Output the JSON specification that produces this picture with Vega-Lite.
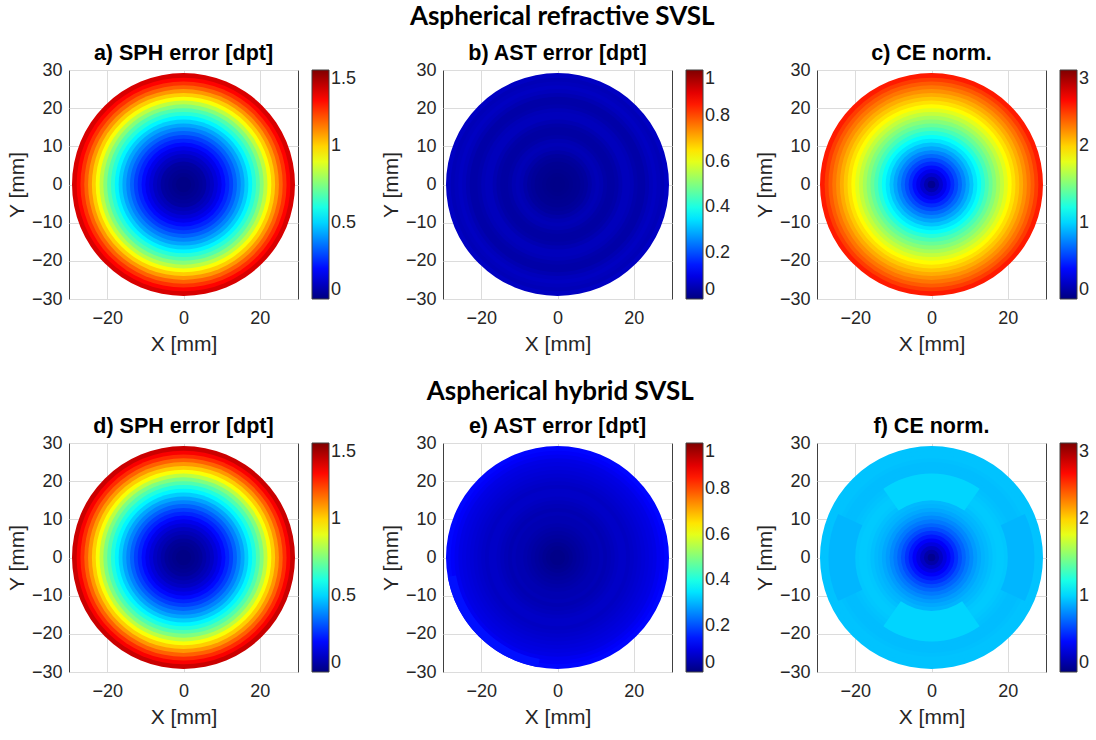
{
  "$schema": "https://vega.github.io/schema/vega-lite/v6.json",
  "padding": {"left": 5, "top": 4, "right": 0, "bottom": 0},
  "background": "white",
  "config": {
    "font": "Liberation Sans",
    "view": {"stroke": "#404040", "strokeWidth": 1},
    "axis": {"grid": true, "gridColor": "#dcdcdc", "ticks": false, "domain": false, "labelFontSize": 18, "titleFontSize": 21, "labelColor": "#262626", "titleColor": "#262626", "titleFontWeight": "normal", "labelFont": "Liberation Sans", "titleFont": "Liberation Sans"},
    "axisX": {"labelPadding": 10, "titlePadding": 6},
    "axisY": {"labelPadding": 7, "titlePadding": 4},
    "title": {"font": "Liberation Sans", "fontSize": 21.5, "fontWeight": "bold", "color": "black", "offset": -3},
    "legend": {"gradientLength": 229, "gradientThickness": 17, "gradientStrokeColor": "#404040", "gradientStrokeWidth": 1, "offset": 14, "padding": 0, "labelOffset": 8, "labelFontSize": 18, "labelColor": "#262626", "labelFont": "Liberation Sans"}
  },
  "datasets": {
    "frame": [{"x": -30, "y": -30}, {"x": 30, "y": 30}],
    "a": [{"r":29.2,"v":1.37},{"r":28,"v":1.31},{"r":27,"v":1.24},{"r":26,"v":1.17},{"r":25,"v":1.09},{"r":24,"v":1.01},{"r":23,"v":0.93},{"r":22,"v":0.84},{"r":21,"v":0.76},{"r":20,"v":0.68},{"r":19,"v":0.62},{"r":18,"v":0.55},{"r":17,"v":0.49},{"r":16,"v":0.43},{"r":15,"v":0.38},{"r":14,"v":0.33},{"r":13,"v":0.28},{"r":12,"v":0.24},{"r":11,"v":0.20},{"r":10,"v":0.16},{"r":9,"v":0.13},{"r":8,"v":0.10},{"r":7,"v":0.08},{"r":6,"v":0.05},{"r":5,"v":0.04},{"r":4,"v":0.03},{"r":3,"v":0.02},{"r":2,"v":0.01},{"r":1,"v":0.01}],
    "b": [{"r":29.2,"v":0.065},{"r":28,"v":0.055},{"r":27,"v":0.06},{"r":26,"v":0.065},{"r":25,"v":0.06},{"r":24,"v":0.05},{"r":23,"v":0.04},{"r":22,"v":0.04},{"r":21,"v":0.045},{"r":20,"v":0.055},{"r":19,"v":0.06},{"r":18,"v":0.06},{"r":17,"v":0.05},{"r":16,"v":0.04},{"r":15,"v":0.035},{"r":14,"v":0.035},{"r":13,"v":0.04},{"r":12,"v":0.05},{"r":11,"v":0.055},{"r":10,"v":0.05},{"r":9,"v":0.04},{"r":8,"v":0.03},{"r":7,"v":0.025},{"r":6,"v":0.02},{"r":5,"v":0.018},{"r":4,"v":0.015},{"r":3,"v":0.012},{"r":2,"v":0.01},{"r":1,"v":0.01}],
    "c": [{"r":29.2,"v":2.55},{"r":28,"v":2.45},{"r":27,"v":2.36},{"r":26,"v":2.28},{"r":25,"v":2.20},{"r":24,"v":2.12},{"r":23,"v":2.04},{"r":22,"v":1.96},{"r":21,"v":1.88},{"r":20,"v":1.79},{"r":19,"v":1.70},{"r":18,"v":1.61},{"r":17,"v":1.52},{"r":16,"v":1.43},{"r":15,"v":1.34},{"r":14,"v":1.24},{"r":13,"v":1.14},{"r":12,"v":1.05},{"r":11,"v":0.95},{"r":10,"v":0.86},{"r":9,"v":0.77},{"r":8,"v":0.68},{"r":7,"v":0.59},{"r":6,"v":0.50},{"r":5,"v":0.41},{"r":4,"v":0.32},{"r":3,"v":0.23},{"r":2,"v":0.14},{"r":1,"v":0.05}],
    "d": [{"r":29.2,"v":1.39},{"r":28,"v":1.32},{"r":27,"v":1.25},{"r":26,"v":1.17},{"r":25,"v":1.09},{"r":24,"v":1.01},{"r":23,"v":0.93},{"r":22,"v":0.84},{"r":21,"v":0.75},{"r":20,"v":0.68},{"r":19,"v":0.61},{"r":18,"v":0.55},{"r":17,"v":0.49},{"r":16,"v":0.43},{"r":15,"v":0.38},{"r":14,"v":0.33},{"r":13,"v":0.28},{"r":12,"v":0.24},{"r":11,"v":0.20},{"r":10,"v":0.16},{"r":9,"v":0.13},{"r":8,"v":0.10},{"r":7,"v":0.08},{"r":6,"v":0.06},{"r":5,"v":0.04},{"r":4,"v":0.03},{"r":3,"v":0.02},{"r":2,"v":0.01},{"r":1,"v":0.01}],
    "e": [{"r":29.2,"v":0.13},{"r":28,"v":0.12},{"r":27,"v":0.11},{"r":26,"v":0.10},{"r":25,"v":0.095},{"r":24,"v":0.09},{"r":23,"v":0.085},{"r":22,"v":0.08},{"r":21,"v":0.075},{"r":20,"v":0.07},{"r":19,"v":0.065},{"r":18,"v":0.07},{"r":17,"v":0.07},{"r":16,"v":0.065},{"r":15,"v":0.06},{"r":14,"v":0.055},{"r":13,"v":0.05},{"r":12,"v":0.055},{"r":11,"v":0.05},{"r":10,"v":0.05},{"r":9,"v":0.045},{"r":8,"v":0.04},{"r":7,"v":0.035},{"r":6,"v":0.03},{"r":5,"v":0.025},{"r":4,"v":0.02},{"r":3,"v":0.015},{"r":2,"v":0.01},{"r":1,"v":0.01}],
    "e2": [{"r":29.2,"r0":27,"t0":190,"t1":260,"v":0.14}],
    "f": [{"r":29.2,"v":0.95},{"r":28,"v":0.95},{"r":27,"v":0.95},{"r":26,"v":0.94},{"r":25,"v":0.93},{"r":24,"v":0.93},{"r":23,"v":0.93},{"r":22,"v":0.94},{"r":21,"v":0.95},{"r":20,"v":0.96},{"r":19,"v":0.97},{"r":18,"v":0.97},{"r":17,"v":0.96},{"r":16,"v":0.94},{"r":15,"v":0.92},{"r":14,"v":0.90},{"r":13,"v":0.87},{"r":12,"v":0.83},{"r":11,"v":0.78},{"r":10,"v":0.73},{"r":9,"v":0.67},{"r":8,"v":0.60},{"r":7,"v":0.52},{"r":6,"v":0.44},{"r":5,"v":0.36},{"r":4,"v":0.28},{"r":3,"v":0.20},{"r":2,"v":0.12},{"r":1,"v":0.05}],
    "f2": [{"r":22,"r0":15,"t0":-35,"t1":35,"v":1.0},{"r":22,"r0":14,"t0":145,"t1":215,"v":1.0},{"r":27,"r0":20,"t0":65,"t1":115,"v":0.91},{"r":27,"r0":20,"t0":245,"t1":295,"v":0.91}]
  },
  "spacing": 24,
  "resolve": {"scale": {"color": "independent", "radius": "independent", "theta": "independent"}, "legend": {"color": "independent"}},
  "vconcat": [
    {
      "title": {"text": "Aspherical refractive SVSL", "font": "Lato", "fontSize": 26, "fontWeight": "bold", "anchor": "middle", "offset": 12, "dx": 14},
      "spacing": 145,
      "bounds": "flush",
      "resolve": {"scale": {"color": "independent", "radius": "independent", "theta": "independent"}, "legend": {"color": "independent"}},
      "hconcat": [
        {"title": "a) SPH error [dpt]", "width": 229, "height": 229, "layer": [
          {"data": {"name": "frame"}, "mark": {"type": "point", "opacity": 0}, "encoding": {"x": {"field": "x", "type": "quantitative", "scale": {"domain": [-30, 30], "nice": false}, "axis": {"values": [-20, 0, 20], "title": "X [mm]"}}, "y": {"field": "y", "type": "quantitative", "scale": {"domain": [-30, 30], "nice": false}, "axis": {"values": [-30, -20, -10, 0, 10, 20, 30], "title": "Y [mm]"}}}},
          {"data": {"name": "a"}, "mark": {"type": "arc", "theta": 0, "theta2": 6.2832}, "encoding": {"radius": {"field": "r", "type": "quantitative", "stack": null, "scale": {"type": "linear", "domain": [0, 30], "range": [0, 114.5]}}, "color": {"field": "v", "type": "quantitative", "scale": {"domain": [0, 0.1875, 0.5625, 0.9375, 1.3125, 1.5], "range": ["#00007f", "#0000ff", "#00ffff", "#ffff00", "#ff0000", "#7f0000"], "interpolate": "rgb"}, "legend": {"values": [0, 0.5, 1, 1.5], "format": "~g", "title": null}}}}
        ]},
        {"title": "b) AST error [dpt]", "width": 229, "height": 229, "layer": [
          {"data": {"name": "frame"}, "mark": {"type": "point", "opacity": 0}, "encoding": {"x": {"field": "x", "type": "quantitative", "scale": {"domain": [-30, 30], "nice": false}, "axis": {"values": [-20, 0, 20], "title": "X [mm]"}}, "y": {"field": "y", "type": "quantitative", "scale": {"domain": [-30, 30], "nice": false}, "axis": {"values": [-30, -20, -10, 0, 10, 20, 30], "title": "Y [mm]"}}}},
          {"data": {"name": "b"}, "mark": {"type": "arc", "theta": 0, "theta2": 6.2832}, "encoding": {"radius": {"field": "r", "type": "quantitative", "stack": null, "scale": {"type": "linear", "domain": [0, 30], "range": [0, 114.5]}}, "color": {"field": "v", "type": "quantitative", "scale": {"domain": [0, 0.125, 0.375, 0.625, 0.875, 1], "range": ["#00007f", "#0000ff", "#00ffff", "#ffff00", "#ff0000", "#7f0000"], "interpolate": "rgb"}, "legend": {"values": [0, 0.2, 0.4, 0.6, 0.8, 1], "format": "~g", "title": null}}}}
        ]},
        {"title": "c) CE norm.", "width": 229, "height": 229, "layer": [
          {"data": {"name": "frame"}, "mark": {"type": "point", "opacity": 0}, "encoding": {"x": {"field": "x", "type": "quantitative", "scale": {"domain": [-30, 30], "nice": false}, "axis": {"values": [-20, 0, 20], "title": "X [mm]"}}, "y": {"field": "y", "type": "quantitative", "scale": {"domain": [-30, 30], "nice": false}, "axis": {"values": [-30, -20, -10, 0, 10, 20, 30], "title": "Y [mm]"}}}},
          {"data": {"name": "c"}, "mark": {"type": "arc", "theta": 0, "theta2": 6.2832}, "encoding": {"radius": {"field": "r", "type": "quantitative", "stack": null, "scale": {"type": "linear", "domain": [0, 30], "range": [0, 114.5]}}, "color": {"field": "v", "type": "quantitative", "scale": {"domain": [0, 0.375, 1.125, 1.875, 2.625, 3], "range": ["#00007f", "#0000ff", "#00ffff", "#ffff00", "#ff0000", "#7f0000"], "interpolate": "rgb"}, "legend": {"values": [0, 1, 2, 3], "format": "~g", "title": null}}}}
        ]}
      ]
    },
    {
      "title": {"text": "Aspherical hybrid SVSL", "font": "Lato", "fontSize": 26, "fontWeight": "bold", "anchor": "middle", "offset": 10, "dx": 12},
      "spacing": 145,
      "bounds": "flush",
      "resolve": {"scale": {"color": "independent", "radius": "independent", "theta": "independent"}, "legend": {"color": "independent"}},
      "hconcat": [
        {"title": "d) SPH error [dpt]", "width": 229, "height": 229, "layer": [
          {"data": {"name": "frame"}, "mark": {"type": "point", "opacity": 0}, "encoding": {"x": {"field": "x", "type": "quantitative", "scale": {"domain": [-30, 30], "nice": false}, "axis": {"values": [-20, 0, 20], "title": "X [mm]"}}, "y": {"field": "y", "type": "quantitative", "scale": {"domain": [-30, 30], "nice": false}, "axis": {"values": [-30, -20, -10, 0, 10, 20, 30], "title": "Y [mm]"}}}},
          {"data": {"name": "d"}, "mark": {"type": "arc", "theta": 0, "theta2": 6.2832}, "encoding": {"radius": {"field": "r", "type": "quantitative", "stack": null, "scale": {"type": "linear", "domain": [0, 30], "range": [0, 114.5]}}, "color": {"field": "v", "type": "quantitative", "scale": {"domain": [0, 0.1875, 0.5625, 0.9375, 1.3125, 1.5], "range": ["#00007f", "#0000ff", "#00ffff", "#ffff00", "#ff0000", "#7f0000"], "interpolate": "rgb"}, "legend": {"values": [0, 0.5, 1, 1.5], "format": "~g", "title": null}}}}
        ]},
        {"title": "e) AST error [dpt]", "width": 229, "height": 229, "layer": [
          {"data": {"name": "frame"}, "mark": {"type": "point", "opacity": 0}, "encoding": {"x": {"field": "x", "type": "quantitative", "scale": {"domain": [-30, 30], "nice": false}, "axis": {"values": [-20, 0, 20], "title": "X [mm]"}}, "y": {"field": "y", "type": "quantitative", "scale": {"domain": [-30, 30], "nice": false}, "axis": {"values": [-30, -20, -10, 0, 10, 20, 30], "title": "Y [mm]"}}}},
          {"data": {"name": "e"}, "mark": {"type": "arc", "theta": 0, "theta2": 6.2832}, "encoding": {"radius": {"field": "r", "type": "quantitative", "stack": null, "scale": {"type": "linear", "domain": [0, 30], "range": [0, 114.5]}}, "color": {"field": "v", "type": "quantitative", "scale": {"domain": [0, 0.125, 0.375, 0.625, 0.875, 1], "range": ["#00007f", "#0000ff", "#00ffff", "#ffff00", "#ff0000", "#7f0000"], "interpolate": "rgb"}, "legend": {"values": [0, 0.2, 0.4, 0.6, 0.8, 1], "format": "~g", "title": null}}}},
          {"data": {"name": "e2"}, "mark": {"type": "arc"}, "encoding": {"theta": {"field": "t0", "type": "quantitative", "stack": null, "scale": {"type": "linear", "domain": [0, 360], "range": [0, 6.2832], "zero": false}}, "theta2": {"field": "t1"}, "radius": {"field": "r", "type": "quantitative", "stack": null, "scale": {"type": "linear", "domain": [0, 30], "range": [0, 114.5]}}, "radius2": {"field": "r0"}, "color": {"field": "v", "type": "quantitative", "scale": {"domain": [0, 0.125, 0.375, 0.625, 0.875, 1], "range": ["#00007f", "#0000ff", "#00ffff", "#ffff00", "#ff0000", "#7f0000"], "interpolate": "rgb"}, "legend": {"values": [0, 0.2, 0.4, 0.6, 0.8, 1], "format": "~g", "title": null}}}}
        ]},
        {"title": "f) CE norm.", "width": 229, "height": 229, "layer": [
          {"data": {"name": "frame"}, "mark": {"type": "point", "opacity": 0}, "encoding": {"x": {"field": "x", "type": "quantitative", "scale": {"domain": [-30, 30], "nice": false}, "axis": {"values": [-20, 0, 20], "title": "X [mm]"}}, "y": {"field": "y", "type": "quantitative", "scale": {"domain": [-30, 30], "nice": false}, "axis": {"values": [-30, -20, -10, 0, 10, 20, 30], "title": "Y [mm]"}}}},
          {"data": {"name": "f"}, "mark": {"type": "arc", "theta": 0, "theta2": 6.2832}, "encoding": {"radius": {"field": "r", "type": "quantitative", "stack": null, "scale": {"type": "linear", "domain": [0, 30], "range": [0, 114.5]}}, "color": {"field": "v", "type": "quantitative", "scale": {"domain": [0, 0.375, 1.125, 1.875, 2.625, 3], "range": ["#00007f", "#0000ff", "#00ffff", "#ffff00", "#ff0000", "#7f0000"], "interpolate": "rgb"}, "legend": {"values": [0, 1, 2, 3], "format": "~g", "title": null}}}},
          {"data": {"name": "f2"}, "mark": {"type": "arc"}, "encoding": {"theta": {"field": "t0", "type": "quantitative", "stack": null, "scale": {"type": "linear", "domain": [0, 360], "range": [0, 6.2832], "zero": false}}, "theta2": {"field": "t1"}, "radius": {"field": "r", "type": "quantitative", "stack": null, "scale": {"type": "linear", "domain": [0, 30], "range": [0, 114.5]}}, "radius2": {"field": "r0"}, "color": {"field": "v", "type": "quantitative", "scale": {"domain": [0, 0.375, 1.125, 1.875, 2.625, 3], "range": ["#00007f", "#0000ff", "#00ffff", "#ffff00", "#ff0000", "#7f0000"], "interpolate": "rgb"}, "legend": {"values": [0, 1, 2, 3], "format": "~g", "title": null}}}}
        ]}
      ]
    }
  ]
}
